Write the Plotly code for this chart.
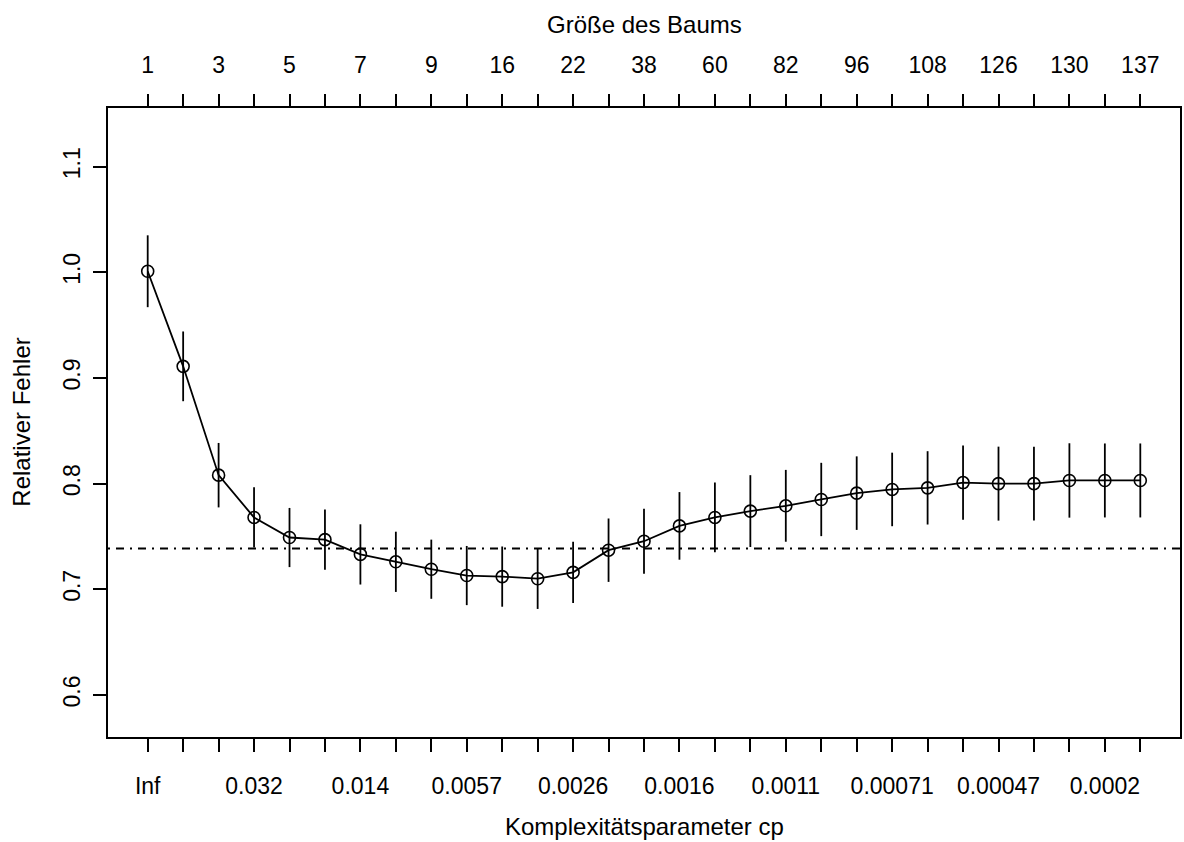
import plotly.graph_objects as go

# ---- data ----
pos = list(range(1, 30))
rel_error = [1.001, 0.911, 0.808, 0.768, 0.749, 0.747, 0.733, 0.726, 0.719, 0.713,
             0.712, 0.710, 0.716, 0.737, 0.7455, 0.760, 0.768, 0.774, 0.779, 0.785,
             0.791, 0.7945, 0.796, 0.801, 0.800, 0.800, 0.803, 0.803, 0.803]
rel_error_sd = [0.034, 0.033, 0.0305, 0.0285, 0.028, 0.0285, 0.0285, 0.0285, 0.028, 0.028,
                0.0285, 0.0286, 0.029, 0.030, 0.0307, 0.032, 0.033, 0.034, 0.034, 0.0347,
                0.0348, 0.0348, 0.0347, 0.0352, 0.035, 0.035, 0.0352, 0.035, 0.035]
threshold = 0.7386

size_labels = ["1", "", "3", "", "5", "", "7", "", "9", "", "16", "", "22", "", "38", "",
               "60", "", "82", "", "96", "", "108", "", "126", "", "130", "", "137"]
cp_labels = ["Inf", "", "", "0.032", "", "", "0.014", "", "", "0.0057", "", "", "0.0026", "", "",
             "0.0016", "", "", "0.0011", "", "", "0.00071", "", "", "0.00047", "", "", "0.0002", ""]
y_ticks = [0.6, 0.7, 0.8, 0.9, 1.0, 1.1]
y_ticktext = ["0.6", "0.7", "0.8", "0.9", "1.0", "1.1"]

FONT = "Liberation Sans, Arial, Helvetica, sans-serif"
TICK_FS = 23
TITLE_FS = 24
x_range = [-0.12, 30.12]
y_range = [0.5602, 1.1555]

fig = go.Figure()

fig.add_trace(go.Scatter(
    x=pos, y=rel_error, mode="lines+markers",
    line=dict(color="black", width=1.8),
    marker=dict(symbol="circle-open", size=12, color="black", line=dict(width=1.6, color="black")),
    error_y=dict(type="data", array=rel_error_sd, visible=True, color="black", thickness=1.8, width=0),
    showlegend=False, hoverinfo="skip"))

# invisible trace for top axis
fig.add_trace(go.Scatter(x=pos, y=rel_error, xaxis="x2", mode="markers",
                         marker=dict(opacity=0), showlegend=False, hoverinfo="skip"))

fig.add_hline(y=threshold, line=dict(color="black", width=1.8, dash="2px,6px,8px,6px"))

axis_common = dict(
    tickmode="array", tickvals=pos, ticks="outside", ticklen=13, tickwidth=1.8, tickcolor="black",
    showgrid=False, zeroline=False, range=x_range,
    tickfont=dict(family=FONT, size=TICK_FS, color="black"),
)

fig.update_layout(
    width=1184, height=842,
    margin=dict(l=108, r=2, t=108, b=105),
    paper_bgcolor="white", plot_bgcolor="white",
    font=dict(family=FONT, color="black"),
    xaxis=dict(**axis_common, ticktext=cp_labels, side="bottom",
               showline=True, linecolor="black", linewidth=2, mirror=True,
               ticklabelstandoff=14),
    xaxis2=dict(**axis_common, ticktext=size_labels, side="top", overlaying="x",
                anchor="y", showline=False, ticklabelstandoff=12),
    yaxis=dict(range=y_range, tickmode="array", tickvals=y_ticks, ticktext=y_ticktext,
               ticks="outside", ticklen=13, tickwidth=1.8, tickcolor="black",
               showgrid=False, zeroline=False, showline=True, linecolor="black",
               linewidth=2, mirror=True, tickangle=-90,
               tickfont=dict(family=FONT, size=TICK_FS, color="black"),
               ticklabelstandoff=4),
    annotations=[
        dict(text="Komplexitätsparameter cp", xref="paper", yref="paper",
             x=0.5, y=(736.5 - 826) / 628, xanchor="center", yanchor="middle",
             showarrow=False, font=dict(family=FONT, size=TITLE_FS, color="black")),
        dict(text="Größe des Baums", xref="paper", yref="paper",
             x=0.5, y=(736.5 - 25) / 628, xanchor="center", yanchor="middle",
             showarrow=False, font=dict(family=FONT, size=TITLE_FS, color="black")),
        dict(text="Relativer Fehler", xref="paper", yref="paper",
             x=(21 - 108) / 1074, y=0.5, xanchor="center", yanchor="middle", textangle=-90,
             showarrow=False, font=dict(family=FONT, size=TITLE_FS, color="black")),
    ],
)

fig.write_html("out.html")
